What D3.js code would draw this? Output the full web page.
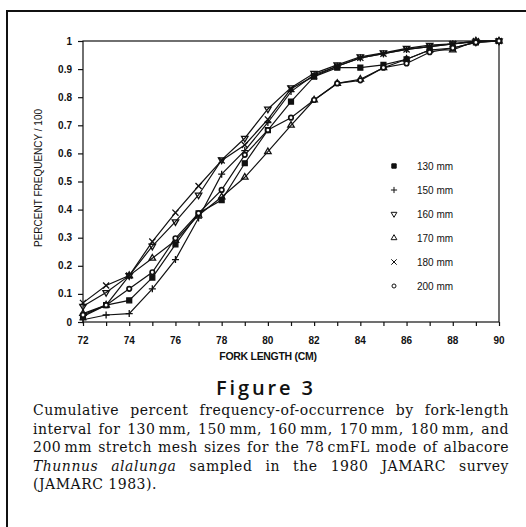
<!DOCTYPE html>
<html lang="en">
<head>
  <meta charset="UTF-8">
  <title>Figure 3 - Cumulative frequency by fork length</title>
  <script src="https://d3js.org/d3.v7.min.js"></script>
  <style>
    body { margin: 0; background: #fff; }
    svg { display: block; }
    .tick-label { font-family: "Liberation Sans", Arial, sans-serif; font-size: 10px; font-weight: bold; fill: #111; }
    .x-title { font-family: "Liberation Sans", Arial, sans-serif; font-size: 10.5px; font-weight: bold; fill: #111; }
    .y-title { font-family: "Liberation Sans", Arial, sans-serif; font-size: 10px; fill: #111; }
    .legend { font-family: "Liberation Sans", Arial, sans-serif; font-size: 10px; fill: #111; }
    .fig-title { font-family: "Open Sans", sans-serif; font-size: 20px; font-weight: 600; fill: #111; }
    .caption { font-family: "DejaVu Serif", serif; font-size: 14px; letter-spacing: 0.5px; fill: #111; }
  </style>
</head>
<body>
  <svg width="526" height="527"></svg>
  <script>
    // fork length classes (cm)
    const forkLengths = [72, 73, 74, 75, 76, 77, 78, 79, 80, 81, 82, 83, 84, 85, 86, 87, 88, 89, 90];

    // cumulative frequency / 100 per mesh size
    const mesh130 = [0.02, 0.06, 0.077, 0.158, 0.276, 0.387, 0.434, 0.565, 0.683, 0.784, 0.873, 0.905, 0.905, 0.915, 0.935, 0.968, 0.975, 0.995, 1.0];
    const mesh150 = [0.008, 0.025, 0.03, 0.118, 0.222, 0.37, 0.526, 0.61, 0.71, 0.82, 0.88, 0.91, 0.94, 0.955, 0.97, 0.98, 0.99, 1.0, 1.0];
    const mesh160 = [0.056, 0.105, 0.165, 0.27, 0.357, 0.452, 0.577, 0.654, 0.758, 0.834, 0.885, 0.915, 0.944, 0.958, 0.974, 0.985, 0.99, 0.997, 1.0];
    const mesh170 = [0.03, 0.06, 0.165, 0.227, 0.29, 0.38, 0.445, 0.515, 0.606, 0.70, 0.79, 0.849, 0.864, 0.905, 0.935, 0.968, 0.968, 1.0, 1.0];
    const mesh180 = [0.068, 0.13, 0.165, 0.286, 0.389, 0.484, 0.575, 0.63, 0.721, 0.83, 0.875, 0.91, 0.94, 0.955, 0.97, 0.98, 0.99, 1.0, 1.0];
    const mesh200 = [0.025, 0.06, 0.118, 0.177, 0.298, 0.387, 0.47, 0.595, 0.683, 0.727, 0.79, 0.849, 0.86, 0.905, 0.92, 0.96, 0.975, 0.995, 1.0];

    const seriesNames = ["130 mm", "150 mm", "160 mm", "170 mm", "180 mm", "200 mm"];
    const xTickLabels = [72, 74, 76, 78, 80, 82, 84, 86, 88, 90];
    const yTickLabels = [0, 0.1, 0.2, 0.3, 0.4, 0.5, 0.6, 0.7, 0.8, 0.9, 1];

    const captionLines = [
      "Cumulative percent frequency-of-occurrence by fork-length",
      "interval for 130\u2009mm, 150\u2009mm, 160\u2009mm, 170\u2009mm, 180\u2009mm, and",
      "200\u2009mm stretch mesh sizes for the 78\u2009cmFL mode of albacore",
      "|Thunnus alalunga| sampled in the 1980 JAMARC survey",
      "(JAMARC 1983)."
    ];

    const series = [mesh130, mesh150, mesh160, mesh170, mesh180, mesh200].map((vals, i) => ({
      name: seriesNames[i],
      values: vals.map((v, j) => ({ x: forkLengths[j], y: v }))
    }));

    const svg = d3.select("svg");

    // outer figure frame (runs off the right / bottom of the crop)
    svg.append("path")
      .attr("d", "M7,540 L7,11 L540,11")
      .attr("fill", "none")
      .attr("stroke", "#111")
      .attr("stroke-width", 2);

    const plot = { left: 83, right: 499, top: 41, bottom: 322 };
    const x = d3.scaleLinear().domain([72, 90]).range([plot.left, plot.right]);
    const y = d3.scaleLinear().domain([0, 1]).range([plot.bottom, plot.top]);

    // plot box
    svg.append("rect")
      .attr("x", plot.left).attr("y", plot.top)
      .attr("width", plot.right - plot.left).attr("height", plot.bottom - plot.top)
      .attr("fill", "none").attr("stroke", "#111").attr("stroke-width", 1.2);

    // x axis: tick every cm, label every 2
    const gX = svg.append("g").attr("transform", `translate(0,${plot.bottom})`)
      .call(d3.axisBottom(x).tickValues(d3.range(72, 91)).tickSize(4).tickFormat(""));
    gX.select(".domain").remove();
    gX.selectAll("line").attr("stroke", "#111").attr("stroke-width", 1.2);
    svg.append("g").selectAll("text").data(xTickLabels).join("text")
      .attr("class", "tick-label")
      .attr("x", d => x(d)).attr("y", plot.bottom + 22)
      .attr("text-anchor", "middle")
      .text(d => d);

    // y axis
    const gY = svg.append("g").attr("transform", `translate(${plot.left},0)`)
      .call(d3.axisLeft(y).tickValues(yTickLabels).tickSize(5).tickFormat(""));
    gY.select(".domain").remove();
    gY.selectAll("line").attr("stroke", "#111").attr("stroke-width", 1.2);
    svg.append("g").selectAll("text").data(yTickLabels).join("text")
      .attr("class", "tick-label")
      .attr("x", plot.left - 11).attr("y", d => y(d) + 3.5)
      .attr("text-anchor", "end")
      .text(d => d);

    svg.append("text").attr("class", "x-title")
      .attr("x", 268).attr("y", 360).attr("text-anchor", "middle")
      .attr("letter-spacing", -0.3)
      .text("FORK LENGTH (CM)");
    svg.append("text").attr("class", "y-title")
      .attr("transform", "translate(42,178) rotate(-90)")
      .attr("text-anchor", "middle")
      .text("PERCENT FREQUENCY / 100");

    // markers
    const markers = [
      { type: d3.symbolSquare, size: 24, fill: "#111", rot: 0 },
      { type: d3.symbolPlus, size: 18, fill: "none", rot: 0 },
      { type: d3.symbolTriangle2, size: 30, fill: "none", rot: 180 },
      { type: d3.symbolTriangle2, size: 30, fill: "none", rot: 0 },
      { type: d3.symbolTimes, size: 26, fill: "none", rot: 0 },
      { type: d3.symbolCircle, size: 16, fill: "#fff", rot: 0 }
    ];

    const line = d3.line().x(d => x(d.x)).y(d => y(d.y));

    series.forEach(s => {
      svg.append("path")
        .datum(s.values)
        .attr("fill", "none")
        .attr("stroke", "#111")
        .attr("stroke-width", 1.2)
        .attr("d", line);
    });

    series.forEach((s, i) => {
      const m = markers[i];
      svg.append("g").selectAll("path").data(s.values).join("path")
        .attr("transform", d => `translate(${x(d.x)},${y(d.y)}) rotate(${m.rot})`)
        .attr("d", d3.symbol().type(m.type).size(m.size))
        .attr("fill", m.fill)
        .attr("stroke", "#111")
        .attr("stroke-width", i === 5 ? 1.7 : 1.3);
    });

    // legend
    const legend = svg.append("g").selectAll("g").data(series).join("g")
      .attr("transform", (d, i) => `translate(394,${166 + i * 24})`);
    legend.append("path")
      .attr("transform", (d, i) => `rotate(${markers[i].rot})`)
      .attr("d", (d, i) => d3.symbol().type(markers[i].type).size(markers[i].size * 0.8)())
      .attr("fill", (d, i) => markers[i].fill)
      .attr("stroke", "#111")
      .attr("stroke-width", 1);
    legend.append("text").attr("class", "legend")
      .attr("x", 23).attr("y", 3.5)
      .text(d => d.name);

    // figure title and caption
    svg.append("text").attr("class", "fig-title")
      .attr("x", 216).attr("y", 395)
      .attr("textLength", 97).attr("lengthAdjust", "spacing")
      .text("Figure 3");

    // justified caption: stretch the word gaps, not the letters
    const capLeft = 33, capWidth = 476;
    captionLines.forEach((ln, i) => {
      const t = svg.append("text").attr("class", "caption")
        .attr("x", capLeft).attr("y", 415 + i * 18.5);
      ln.split("|").forEach((part, k) => {
        if (!part) return;
        t.append("tspan").attr("font-style", k % 2 === 1 ? "italic" : null).text(part);
      });
      if (i < captionLines.length - 1) {
        const natural = t.node().getComputedTextLength();
        const gaps = (ln.match(/ /g) || []).length;
        t.attr("word-spacing", (capWidth - natural) / gaps);
      }
    });
  </script>
</body>
</html>
